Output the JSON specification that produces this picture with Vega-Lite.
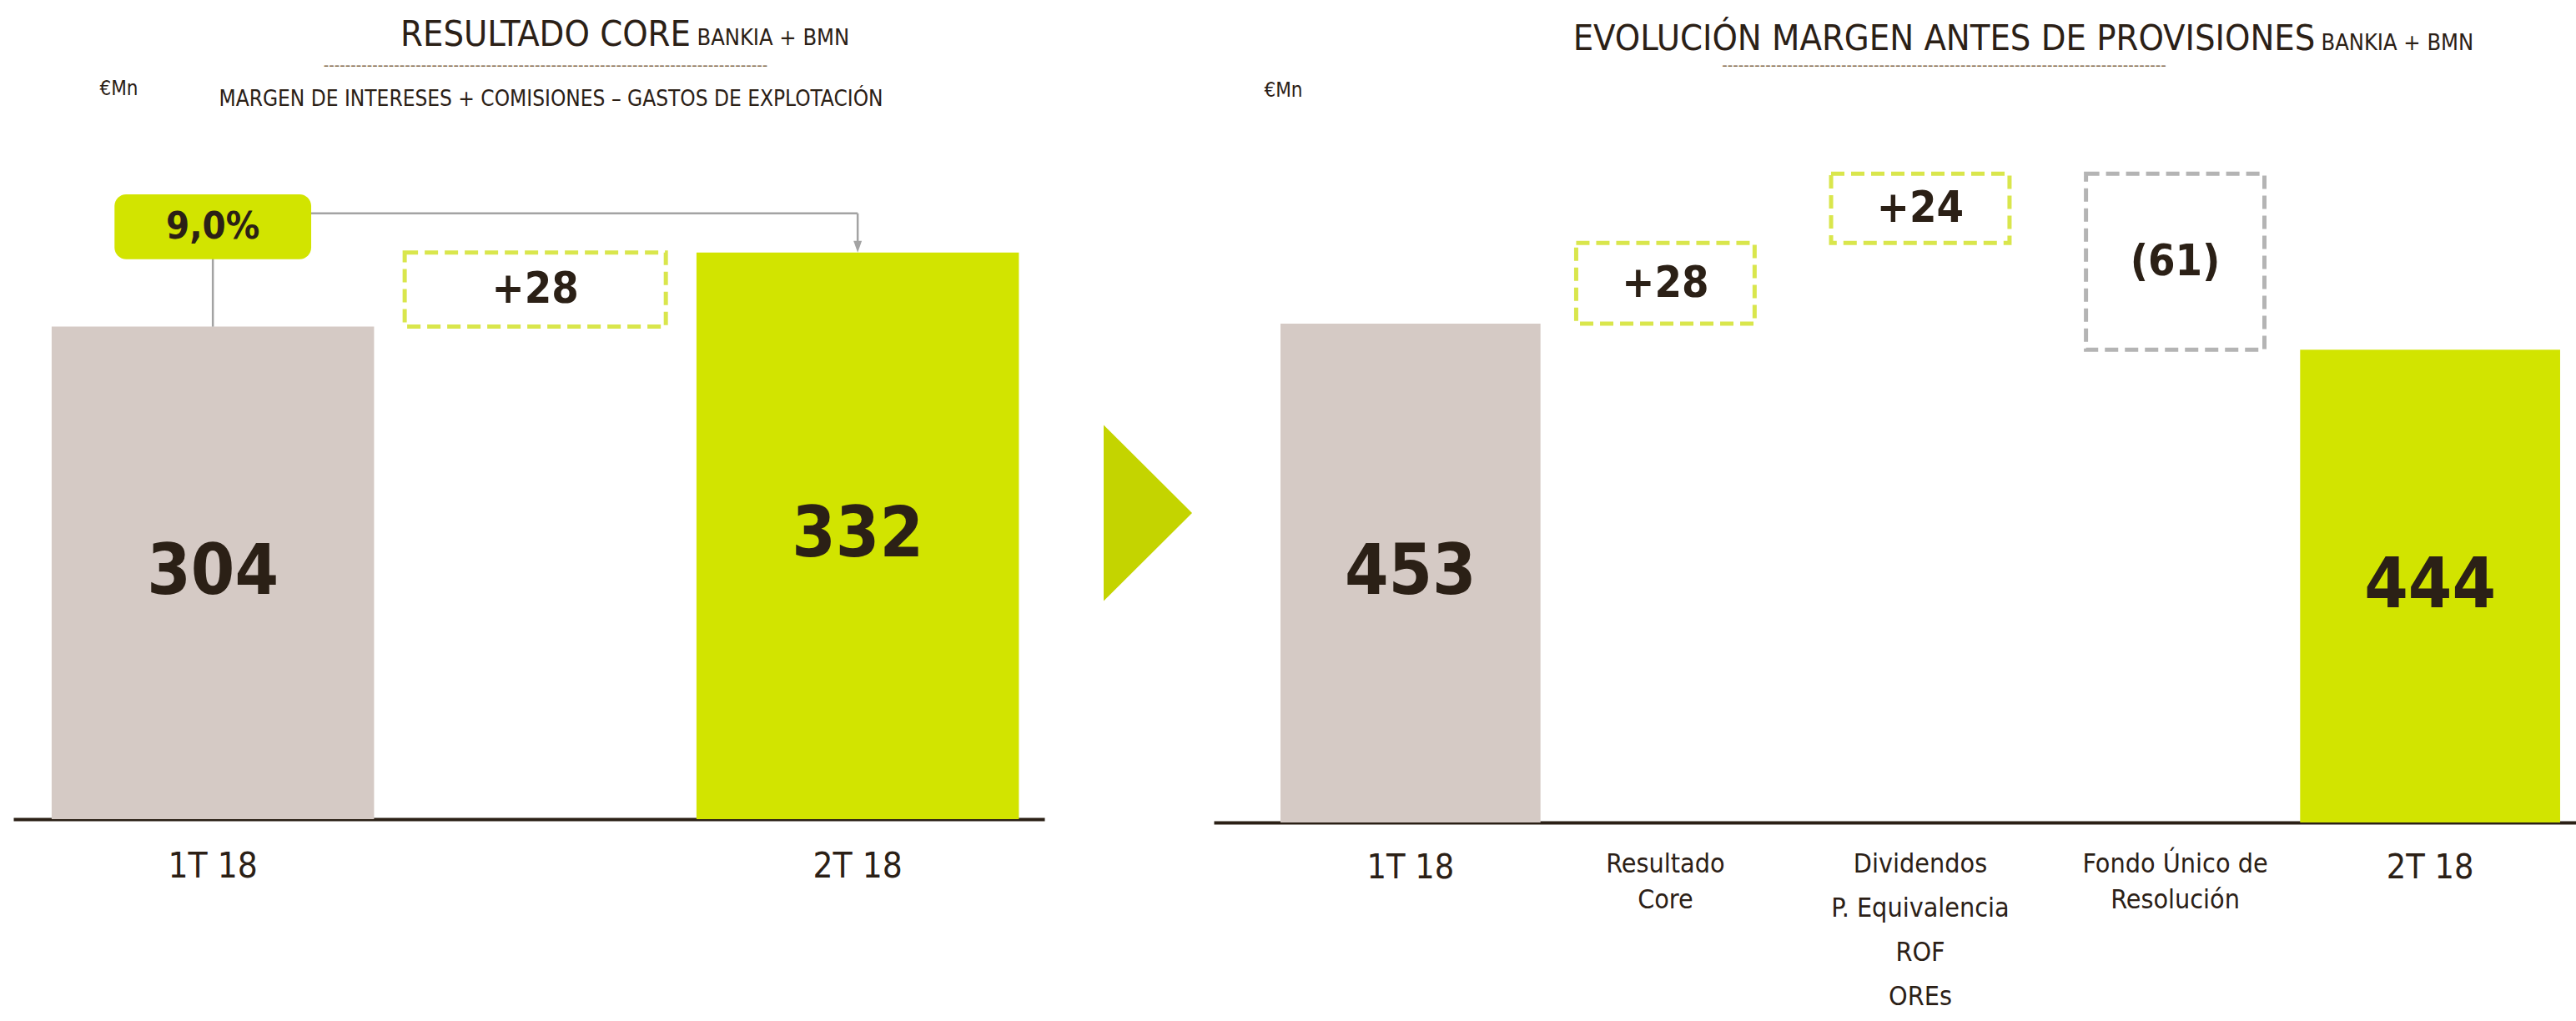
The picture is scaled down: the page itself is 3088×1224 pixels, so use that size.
{
  "$schema": "https://vega.github.io/schema/vega-lite/v6.json",
  "background": "#ffffff",
  "padding": {"left": 16, "top": 21, "right": 0, "bottom": 0},
  "autosize": {"type": "pad"},
  "bounds": "flush",
  "spacing": 0,
  "config": {
    "view": {"stroke": null},
    "axis": {"grid": false},
    "font": "DejaVu Sans Condensed, Liberation Sans Narrow, DejaVu Sans, sans-serif"
  },
  "hconcat": [
    {
      "width": 1236,
      "height": 784,
      "title": {
        "text": "RESULTADO CORE",
        "subtitle": "----------------------------------------------------------------------------------",
        "anchor": "middle",
        "frame": "group",
        "dx": 20,
        "offset": -58,
        "fontSize": 43,
        "fontWeight": "normal",
        "color": "#2b2016",
        "subtitleFontSize": 20,
        "subtitleColor": "#8b7355",
        "subtitlePadding": 5
      },
      "data": {"values": [
        {"periodo": "1T 18", "tipo": "total", "valor": 304, "etiqueta": "304"},
        {"periodo": "Resultado Core", "tipo": "subida", "inicio": 304, "fin": 332, "etiqueta": "+28"},
        {"periodo": "2T 18", "tipo": "total", "valor": 332, "etiqueta": "332"}
      ]},
      "layer": [
        {
          "layer": [
            {
              "transform": [{"filter": "datum.tipo == 'total'"}],
              "mark": {"type": "bar", "width": {"band": 1}},
              "encoding": {
                "x": {"field": "periodo", "type": "nominal",
                  "scale": {"domain": ["1T 18", "Resultado Core", "2T 18"], "paddingInner": 0, "paddingOuter": 0.099, "align": 0.6},
                  "axis": {"orient": "bottom", "title": null, "values": ["1T 18", "2T 18"], "domain": true, "domainColor": "#2b2016", "domainWidth": 4, "ticks": false, "labels": true, "labelAngle": 0, "labelFontSize": 42, "labelColor": "#2b2016", "labelPadding": 36, "labelLimit": 0, "labelOverlap": false}},
                "y": {"field": "valor", "type": "quantitative",
                  "scale": {"domain": [118, 365], "zero": false, "nice": false},
                  "axis": {"orient": "left", "title": "€Mn", "titleAngle": 0, "titleAlign": "left", "titleBaseline": "alphabetic", "titleX": 103, "titleY": -85, "titleFontSize": 24, "titleFontWeight": "normal", "titleColor": "#2b2016", "labels": false, "ticks": false, "domain": false, "grid": false}},
                "y2": {"datum": 118},
                "color": {"field": "periodo", "type": "nominal", "scale": {"domain": ["1T 18", "2T 18"], "range": ["#d5cac5", "#d2e400"]}, "legend": null}
              }
            },
            {
              "transform": [{"filter": "datum.tipo != 'total'"}],
              "mark": {"type": "bar", "width": {"band": 0.81}, "fill": "#ffffff", "stroke": "#d9e64c", "strokeWidth": 5, "strokeDash": [16, 8]},
              "encoding": {
                "x": {"field": "periodo", "type": "nominal",
                  "axis": {"orient": "top", "title": "MARGEN DE INTERESES + COMISIONES – GASTOS DE EXPLOTACIÓN", "titleAngle": 0, "titleAlign": "center", "titleBaseline": "alphabetic", "titleX": 644, "titleY": -72, "titleFontSize": 26, "titleFontWeight": "normal", "titleColor": "#2b2016", "labels": false, "ticks": false, "domain": false}},
                "y": {"field": "inicio", "type": "quantitative", "axis": null},
                "y2": {"field": "fin"}
              }
            },
            {
              "transform": [{"filter": "datum.tipo != 'total'"}, {"fold": ["inicio", "fin"], "as": ["extremo", "nivel"]}],
              "mark": {"type": "text", "fontSize": 52, "fontWeight": "bold", "color": "#2b2016", "baseline": "middle"},
              "encoding": {
                "x": {"field": "periodo", "type": "nominal", "axis": null},
                "y": {"aggregate": "mean", "field": "nivel", "type": "quantitative", "axis": null},
                "text": {"field": "etiqueta"}
              }
            },
            {
              "data": {"values": [{"variacion": "9,0%"}]},
              "layer": [
                {
                  "mark": {"type": "rule", "color": "#a3a3a3", "strokeWidth": 2.5},
                  "encoding": {
                    "x": {"datum": "1T 18", "type": "nominal", "axis": null},
                    "y": {"datum": 304, "type": "quantitative", "axis": null},
                    "y2": {"datum": 330}
                  }
                },
                {
                  "mark": {"type": "rule", "color": "#a3a3a3", "strokeWidth": 2.5},
                  "encoding": {
                    "x": {"datum": "1T 18", "type": "nominal", "axis": null},
                    "x2": {"datum": "2T 18"},
                    "y": {"datum": 346.8, "type": "quantitative", "axis": null}
                  }
                },
                {
                  "mark": {"type": "rule", "color": "#a3a3a3", "strokeWidth": 2.5},
                  "encoding": {
                    "x": {"datum": "2T 18", "type": "nominal", "axis": null},
                    "y": {"datum": 346.8, "type": "quantitative", "axis": null},
                    "y2": {"datum": 334}
                  }
                },
                {
                  "mark": {"type": "point", "shape": "M-1,-2.8L1,-2.8L0,0Z", "size": 100, "filled": true, "color": "#a3a3a3", "opacity": 1},
                  "encoding": {
                    "x": {"datum": "2T 18", "type": "nominal", "axis": null},
                    "y": {"datum": 332, "type": "quantitative", "axis": null}
                  }
                },
                {
                  "mark": {"type": "bar", "width": {"band": 0.61}, "cornerRadius": 14, "color": "#d2e400"},
                  "encoding": {
                    "x": {"datum": "1T 18", "type": "nominal", "axis": null},
                    "y": {"datum": 354, "type": "quantitative", "axis": null},
                    "y2": {"datum": 329.5}
                  }
                },
                {
                  "mark": {"type": "text", "fontSize": 45, "fontWeight": "bold", "color": "#2b2016", "baseline": "middle"},
                  "encoding": {
                    "x": {"datum": "1T 18", "type": "nominal", "axis": null},
                    "y": {"datum": 341.75, "type": "quantitative", "axis": null},
                    "text": {"field": "variacion"}
                  }
                }
              ]
            }
          ],
          "resolve": {"axis": {"x": "independent", "y": "independent"}}
        },
        {
          "transform": [{"filter": "datum.tipo == 'total'"}],
          "mark": {"type": "text", "fontSize": 84, "fontWeight": "bold", "color": "#2b2016", "baseline": "middle"},
          "encoding": {
            "x": {"field": "periodo", "type": "nominal", "axis": null},
            "y": {"field": "valor", "type": "quantitative",
              "scale": {"domain": [118, 612], "zero": false, "nice": false},
              "axis": {"orient": "right", "title": "BANKIA + BMN", "titleAngle": 0, "titleAlign": "left", "titleBaseline": "alphabetic", "titleX": -417, "titleY": -145, "titleFontSize": 27, "titleFontWeight": "normal", "titleColor": "#2b2016", "labels": false, "ticks": false, "domain": false, "grid": false}},
            "text": {"field": "etiqueta"}
          }
        }
      ],
      "resolve": {"scale": {"y": "independent"}, "axis": {"x": "independent", "y": "independent"}}
    },
    {
      "width": 203,
      "height": 834,
      "data": {"values": [{"simbolo": "siguiente"}]},
      "mark": {"type": "point", "shape": "M-0.289,-1L0.716,0L-0.289,1Z", "size": 44521, "filled": true, "color": "#c4d400", "opacity": 1, "strokeWidth": 0}
    },
    {
      "width": 1633,
      "height": 788,
      "title": {
        "text": "EVOLUCIÓN MARGEN ANTES DE PROVISIONES",
        "subtitle": "----------------------------------------------------------------------------------",
        "anchor": "middle",
        "frame": "group",
        "dx": 59,
        "offset": -52,
        "fontSize": 43,
        "fontWeight": "normal",
        "color": "#2b2016",
        "subtitleFontSize": 20,
        "subtitleColor": "#8b7355",
        "subtitlePadding": 0
      },
      "data": {"values": [
        {"concepto": "1T 18", "tipo": "total", "valor": 453, "etiqueta": "453"},
        {"concepto": "Resultado Core", "tipo": "subida", "inicio": 453, "fin": 481, "etiqueta": "+28"},
        {"concepto": "Dividendos, P. Equivalencia, ROF, OREs", "tipo": "subida", "inicio": 481, "fin": 505, "etiqueta": "+24"},
        {"concepto": "Fondo Único de Resolución", "tipo": "bajada", "inicio": 505, "fin": 444, "etiqueta": "(61)"},
        {"concepto": "2T 18", "tipo": "total", "valor": 444, "etiqueta": "444"}
      ]},
      "layer": [
        {
          "layer": [
            {
              "transform": [{"filter": "datum.tipo == 'total'"}],
              "mark": {"type": "bar", "width": {"band": 1.02}},
              "encoding": {
                "x": {"field": "concepto", "type": "nominal",
                  "scale": {"domain": ["1T 18", "Resultado Core", "Dividendos, P. Equivalencia, ROF, OREs", "Fondo Único de Resolución", "2T 18"], "paddingInner": 0, "paddingOuter": 0.172, "align": 0.79},
                  "axis": {"orient": "bottom", "title": null, "domain": true, "domainColor": "#2b2016", "domainWidth": 4, "ticks": false, "labels": true, "labelAngle": 0, "labelColor": "#2b2016", "labelPadding": 34, "labelLimit": 0, "labelOverlap": false,
                    "labelLineHeight": {"expr": "datum.value == 'Dividendos, P. Equivalencia, ROF, OREs' ? 53 : 43"},
                    "labelFontSize": {"condition": {"test": "datum.value == '1T 18' || datum.value == '2T 18'", "value": 41}, "value": 32},
                    "labelExpr": "datum.value == 'Resultado Core' ? ['Resultado', 'Core'] : datum.value == 'Fondo Único de Resolución' ? ['Fondo Único de', 'Resolución'] : datum.value == 'Dividendos, P. Equivalencia, ROF, OREs' ? ['Dividendos', 'P. Equivalencia', 'ROF', 'OREs'] : datum.value"}},
                "y": {"field": "valor", "type": "quantitative",
                  "scale": {"domain": [280, 508], "zero": false, "nice": false},
                  "axis": {"orient": "left", "title": "€Mn", "titleAngle": 0, "titleAlign": "left", "titleBaseline": "alphabetic", "titleX": 60, "titleY": -83, "titleFontSize": 24, "titleFontWeight": "normal", "titleColor": "#2b2016", "labels": false, "ticks": false, "domain": false, "grid": false}},
                "y2": {"datum": 280},
                "color": {"field": "concepto", "type": "nominal", "scale": {"domain": ["1T 18", "2T 18"], "range": ["#d5cac5", "#d2e400"]}, "legend": null}
              }
            },
            {
              "transform": [{"filter": "datum.tipo != 'total'"}],
              "mark": {"type": "bar", "width": {"band": 0.7}, "fill": "#ffffff", "strokeWidth": 5, "strokeDash": [16, 8]},
              "encoding": {
                "x": {"field": "concepto", "type": "nominal", "axis": null},
                "y": {"field": "inicio", "type": "quantitative", "axis": null},
                "y2": {"field": "fin"},
                "stroke": {"field": "tipo", "type": "nominal", "scale": {"domain": ["subida", "bajada"], "range": ["#d9e64c", "#b4b4b4"]}, "legend": null}
              }
            },
            {
              "transform": [{"filter": "datum.tipo != 'total'"}, {"fold": ["inicio", "fin"], "as": ["extremo", "nivel"]}],
              "mark": {"type": "text", "fontSize": 52, "fontWeight": "bold", "color": "#2b2016", "baseline": "middle"},
              "encoding": {
                "x": {"field": "concepto", "type": "nominal", "axis": null},
                "y": {"aggregate": "mean", "field": "nivel", "type": "quantitative", "axis": null},
                "text": {"field": "etiqueta"}
              }
            }
          ],
          "resolve": {"axis": {"x": "independent", "y": "independent"}}
        },
        {
          "transform": [{"filter": "datum.tipo == 'total'"}],
          "mark": {"type": "text", "fontSize": 84, "fontWeight": "bold", "color": "#2b2016", "baseline": "middle"},
          "encoding": {
            "x": {"field": "concepto", "type": "nominal", "axis": null},
            "y": {"field": "valor", "type": "quantitative",
              "scale": {"domain": [280, 736], "zero": false, "nice": false},
              "axis": {"orient": "right", "title": "BANKIA + BMN", "titleAngle": 0, "titleAlign": "left", "titleBaseline": "alphabetic", "titleX": -306, "titleY": -139, "titleFontSize": 27, "titleFontWeight": "normal", "titleColor": "#2b2016", "labels": false, "ticks": false, "domain": false, "grid": false}},
            "text": {"field": "etiqueta"}
          }
        }
      ],
      "resolve": {"scale": {"y": "independent"}, "axis": {"x": "independent", "y": "independent"}}
    }
  ]
}
